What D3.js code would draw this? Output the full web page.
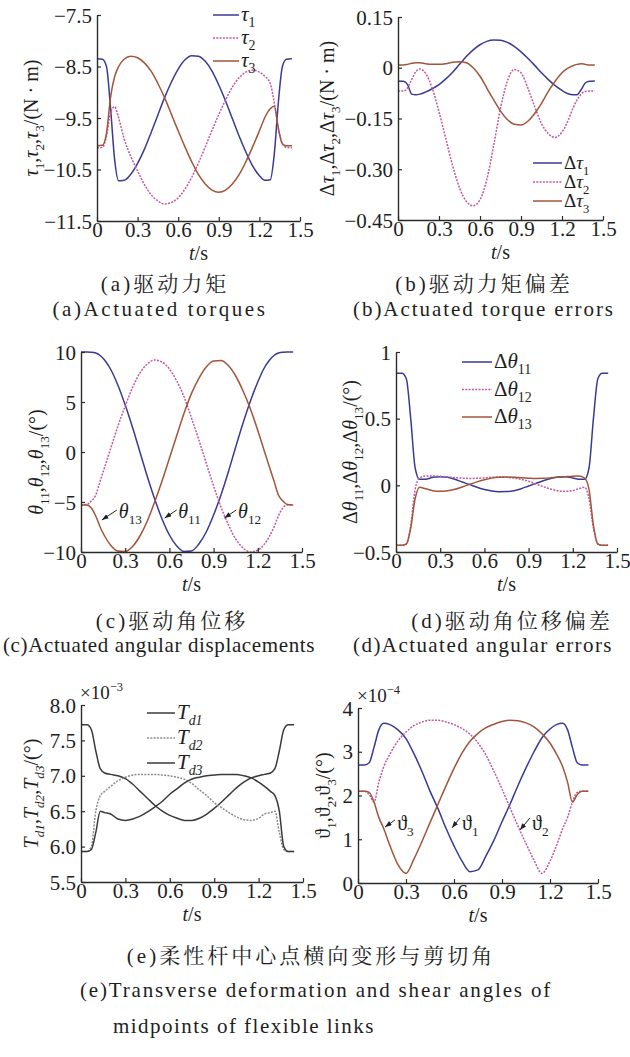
<!DOCTYPE html>
<html><head><meta charset="utf-8">
<script src="https://cdn.jsdelivr.net/npm/d3@7"></script>
<style>html,body{margin:0;padding:0;background:#fff}svg{display:block}</style>
</head><body>
<svg id="chart" width="630" height="1057"></svg>
<script>
// ---------- DATA ----------
const T = [0,0.04,0.07,0.1,0.13,0.16,0.2,0.25,0.3,0.35,0.4,0.45,0.5,0.55,0.6,0.65,0.7,0.75,0.8,0.85,0.9,0.95,1.0,1.05,1.1,1.15,1.2,1.24,1.28,1.31,1.34,1.37,1.4,1.44];
const tickT = [0,0.3,0.6,0.9,1.2,1.5];
const tickTLabels = ["0","0.3","0.6","0.9","1.2","1.5"];

// (a) actuated torques
const tau1 = [-8.35,-8.36,-8.5,-9.3,-10.3,-10.72,-10.71,-10.59,-10.38,-10.11,-9.78,-9.44,-9.10,-8.80,-8.55,-8.37,-8.29,-8.30,-8.40,-8.59,-8.86,-9.17,-9.51,-9.85,-10.16,-10.43,-10.62,-10.71,-10.7,-10.2,-9.2,-8.5,-8.36,-8.35];
const tau2 = [-10.08,-10.07,-9.85,-9.4,-9.28,-9.5,-9.9,-10.25,-10.53,-10.79,-10.99,-11.11,-11.17,-11.14,-11.05,-10.88,-10.65,-10.37,-10.06,-9.74,-9.43,-9.15,-8.90,-8.72,-8.61,-8.57,-8.61,-8.69,-8.83,-9.2,-9.7,-10.0,-10.07,-10.08];
const tau3 = [-10.04,-10.03,-9.8,-9.1,-8.7,-8.5,-8.36,-8.30,-8.33,-8.43,-8.59,-8.83,-9.11,-9.43,-9.75,-10.06,-10.35,-10.6,-10.78,-10.9,-10.94,-10.9,-10.78,-10.6,-10.35,-10.06,-9.75,-9.49,-9.32,-9.27,-9.7,-10.0,-10.04,-10.04];
const tauTicks = [-11.5,-10.5,-9.5,-8.5,-7.5];
const tauTickLabels = ["\u221211.5","\u221210.5","\u22129.5","\u22128.5","\u22127.5"];

// (b) torque errors
const dtau1 = [-0.039,-0.04,-0.05,-0.078,-0.08,-0.078,-0.072,-0.062,-0.05,-0.033,-0.013,0.01,0.033,0.053,0.068,0.078,0.082,0.081,0.075,0.063,0.047,0.028,0.007,-0.015,-0.035,-0.053,-0.067,-0.076,-0.08,-0.08,-0.065,-0.045,-0.04,-0.039];
const dtau2 = [-0.069,-0.069,-0.06,-0.035,-0.012,-0.004,-0.015,-0.06,-0.13,-0.21,-0.29,-0.355,-0.395,-0.408,-0.39,-0.33,-0.23,-0.12,-0.04,-0.005,-0.015,-0.06,-0.115,-0.165,-0.195,-0.206,-0.19,-0.16,-0.12,-0.095,-0.078,-0.07,-0.069,-0.069];
const dtau3 = [0.008,0.008,0.01,0.013,0.015,0.015,0.012,0.01,0.01,0.012,0.016,0.018,0.015,0.0,-0.025,-0.06,-0.095,-0.128,-0.153,-0.167,-0.169,-0.158,-0.135,-0.105,-0.07,-0.04,-0.015,-0.002,0.006,0.01,0.012,0.01,0.008,0.008];
const dtauTicks = [-0.45,-0.30,-0.15,0,0.15];
const dtauTickLabels = ["\u22120.45","\u22120.30","\u22120.15","0","0.15"];

// (c) angular displacements
const th11 = [10,10,9.98,9.9,9.65,9.2,8.3,6.7,4.7,2.45,0,-2.45,-4.7,-6.7,-8.3,-9.4,-9.95,-9.9,-9.2,-8.0,-6.3,-4.3,-2.0,0.5,2.9,5.1,7.0,8.3,9.2,9.65,9.9,9.98,10,10];
const th12 = [-5.3,-5.25,-4.9,-4.3,-2.9,-1.55,0.29,2.57,4.6,6.45,7.9,8.8,9.2,9.0,8.3,7.1,5.5,3.4,1.2,-1.1,-3.4,-5.5,-7.25,-8.7,-9.6,-10.0,-9.8,-9.3,-8.4,-7.5,-6.4,-5.6,-5.3,-5.3];
const th13 = [-5.3,-5.3,-5.6,-6.4,-7.5,-8.4,-9.3,-9.9,-9.95,-9.45,-8.4,-6.9,-5.0,-2.9,-0.63,1.66,3.9,5.86,7.37,8.5,9.1,9.15,8.65,7.6,6.1,4.3,2.15,0.3,-1.55,-2.9,-4.3,-4.9,-5.25,-5.3];
const thTicks = [-10,-5,0,5,10];
const thTickLabels = ["\u221210","\u22125","0","5","10"];

// (d) angular errors
const dth11 = [0.84,0.84,0.8,0.5,0.13,0.045,0.045,0.06,0.065,0.06,0.045,0.025,0.005,-0.015,-0.032,-0.043,-0.048,-0.047,-0.04,-0.025,-0.005,0.015,0.035,0.052,0.062,0.064,0.055,0.045,0.045,0.13,0.5,0.8,0.84,0.84];
const dth12 = [-0.45,-0.45,-0.44,-0.3,-0.03,0.055,0.07,0.07,0.068,0.063,0.058,0.054,0.052,0.053,0.056,0.06,0.062,0.06,0.055,0.045,0.03,0.01,-0.01,-0.028,-0.04,-0.045,-0.04,-0.025,-0.015,-0.1,-0.32,-0.44,-0.45,-0.45];
const dth13 = [-0.45,-0.45,-0.44,-0.32,-0.1,-0.015,-0.025,-0.04,-0.045,-0.04,-0.03,-0.012,0.008,0.026,0.042,0.054,0.06,0.062,0.06,0.057,0.054,0.052,0.053,0.056,0.06,0.065,0.069,0.07,0.055,-0.03,-0.3,-0.44,-0.45,-0.45];
const dthTicks = [-0.5,0,0.5,1];
const dthTickLabels = ["\u22120.5","0","0.5","1"];

// (e) left: transverse deformation (x1e-3)
const Td1 = [7.72,7.72,7.65,7.35,7.1,7.04,7.02,7.0,6.96,6.88,6.78,6.68,6.58,6.5,6.44,6.4,6.37,6.37,6.4,6.46,6.54,6.63,6.73,6.83,6.91,6.97,7.0,7.02,7.04,7.1,7.35,7.65,7.72,7.72];
const Td2 = [5.93,5.93,6.0,6.5,6.72,6.78,6.85,6.93,6.98,7.01,7.02,7.02,7.02,7.01,7.0,6.98,6.95,6.89,6.8,6.72,6.62,6.55,6.48,6.42,6.38,6.37,6.4,6.46,6.48,6.5,6.2,5.96,5.93,5.93];
const Td3 = [5.93,5.93,5.96,6.2,6.5,6.48,6.46,6.39,6.37,6.39,6.43,6.49,6.56,6.64,6.74,6.82,6.9,6.955,6.98,7.0,7.01,7.02,7.02,7.02,7.0,6.97,6.91,6.85,6.78,6.72,6.5,6.0,5.93,5.93];
const TdTicks = [5.5,6.0,6.5,7.0,7.5,8.0];
const TdTickLabels = ["5.5","6.0","6.5","7.0","7.5","8.0"];

// (e) right: shear angles (x1e-4)
const vt1 = [2.7,2.7,2.75,3.1,3.5,3.65,3.62,3.5,3.3,2.95,2.55,2.1,1.7,1.25,0.85,0.5,0.26,0.3,0.62,0.98,1.4,1.8,2.23,2.63,3.0,3.32,3.52,3.62,3.65,3.5,3.1,2.75,2.7,2.7];
const vt2 = [2.1,2.1,2.02,1.85,2.3,2.65,2.95,3.25,3.45,3.6,3.68,3.72,3.72,3.68,3.62,3.53,3.4,3.2,2.92,2.55,2.15,1.72,1.3,0.9,0.52,0.22,0.5,0.85,1.25,1.5,1.85,2.07,2.1,2.1];
const vt3 = [2.1,2.1,2.07,1.85,1.5,1.25,0.85,0.42,0.22,0.55,0.95,1.38,1.8,2.22,2.62,2.97,3.24,3.42,3.55,3.63,3.69,3.72,3.71,3.66,3.57,3.41,3.2,2.95,2.65,2.3,1.85,2.02,2.1,2.1];
const vtTicks = [0,1,2,3,4];
const vtTickLabels = ["0","1","2","3","4"];

// ---------- FONTS ----------
function pickFont(cands, fallback) {
  const ctx = document.createElement("canvas").getContext("2d");
  const s = "AaBbGgMmWwQqRr0123456789.,-";
  for (const f of cands) {
    let ok = false;
    for (const base of ["monospace", "sans-serif"]) {
      ctx.font = `40px ${base}`; const w0 = ctx.measureText(s).width;
      ctx.font = `40px "${f}", ${base}`; const w1 = ctx.measureText(s).width;
      if (Math.abs(w1 - w0) > 0.5) { ok = true; break; }
    }
    if (ok) return `"${f}", ${fallback}`;
  }
  return fallback;
}
const SERIF = pickFont(["Liberation Serif", "Times New Roman", "Tinos", "DejaVu Serif", "Noto Serif", "FreeSerif", "Nimbus Roman", "Times", "Georgia"], "serif");
const CJK = SERIF.replace(/, serif$/, "") + ", \"Noto Serif CJK SC\", \"Noto Sans CJK SC\", serif";

// ---------- STYLE ----------
const BLUE = "#3a3a94", MAG = "#c05a9c", BROWN = "#a2553a", DARK = "#3a3a3a", GREY = "#8c8c8c";
const TXT = "#1e1e1e";

const svg = d3.select("#chart");
svg.append("rect").attr("width",630).attr("height",1057).attr("fill","#fff");
const defs = svg.append("defs");
defs.append("marker").attr("id","arr").attr("viewBox","0 0 8 6").attr("refX",8).attr("refY",3)
  .attr("markerWidth",7).attr("markerHeight",5).attr("orient","auto").attr("markerUnits","userSpaceOnUse")
  .append("path").attr("d","M0,0L8,3L0,6z").attr("fill","#222");

function rich(parent, x, y, parts, fs, opts = {}) {
  const t = parent.append("text").attr("x", x).attr("y", y)
    .style("font-family", SERIF).style("font-size", fs + "px").attr("fill", TXT);
  if (opts.anchor) t.attr("text-anchor", opts.anchor);
  if (opts.rotate) t.attr("transform", `rotate(-90,${x},${y})`);
  let cur = 0;
  parts.forEach(([s, st]) => {
    let shift = 0, size = fs;
    if (st.includes("b")) { shift = 0.3 * fs; size = 0.66 * fs; }
    if (st.includes("p")) { shift = -0.42 * fs; size = 0.66 * fs; }
    const sp = t.append("tspan").text(s).style("font-size", size + "px").attr("dy", shift - cur);
    if (st.includes("i")) sp.style("font-style", "italic");
    cur = shift;
  });
  return t;
}

function panel(cfg) {
  const g = svg.append("g");
  const x = d3.scaleLinear().domain([0, 1.5]).range([cfg.x0, cfg.x1]);
  const y = d3.scaleLinear().domain(cfg.yDomain).range([cfg.yBot, cfg.yTop]);
  const line = d3.line().x((d, i) => x(T[i])).y(d => y(d)).curve(d3.curveMonotoneX);
  cfg.series.forEach(s => {
    g.append("path").datum(s.values).attr("d", line).attr("fill", "none")
      .attr("stroke", s.color).attr("stroke-width", 1.5)
      .attr("stroke-dasharray", s.dash ? "2,1.3" : null);
  });
  const ax = g.append("g").attr("transform", `translate(0,${cfg.yBot})`)
    .call(d3.axisBottom(x).tickValues(tickT).tickFormat((d, i) => tickTLabels[i])
      .tickSize(-4).tickSizeOuter(0).tickPadding(1));
  const ay = g.append("g").attr("transform", `translate(${cfg.x0},0)`)
    .call(d3.axisLeft(y).tickValues(cfg.ticks).tickFormat((d, i) => cfg.tickLabels[i])
      .tickSize(-4).tickSizeOuter(0).tickPadding(5));
  [ax, ay].forEach(a => {
    a.attr("font-family", null).attr("font-size", null);
    a.select(".domain").attr("stroke", "#2a2a2a").attr("stroke-width", 1.4);
    a.selectAll(".tick line").attr("stroke", "#2a2a2a").attr("stroke-width", 1.2);
    a.selectAll("text").style("font-family", SERIF).style("font-size", "21px").attr("fill", TXT);
  });
  ay.selectAll("text").attr("dy", "0.34em");
  rich(g, (cfg.x0 + cfg.x1) / 2, cfg.yBot + 39, [["t", "i"], ["/s", "n"]], 20, { anchor: "middle" });
  rich(g, cfg.ylx, (cfg.yTop + cfg.yBot) / 2 + (cfg.yloff || 0), cfg.ylabel, 20, { anchor: "middle", rotate: true });
  if (cfg.legend) {
    const L = cfg.legend;
    cfg.series.forEach((s, i) => {
      const yy = L.y + i * L.dy;
      g.append("line").attr("x1", L.x).attr("x2", L.x + L.w).attr("y1", yy).attr("y2", yy)
        .attr("stroke", s.color).attr("stroke-width", 1.5).attr("stroke-dasharray", s.dash ? "2,1.3" : null);
      rich(g, L.x + L.w + 2, yy + 6, s.label, L.fs || 21);
    });
  }
  if (cfg.exp) rich(g, cfg.x0 - 1, cfg.yTop - 6, [["\u00d710", "n"], [cfg.exp, "p"]], 19);
  if (cfg.ann) {
    cfg.ann.forEach(a => {
      g.append("line").attr("x1", x(a.from[0])).attr("y1", y(a.from[1]))
        .attr("x2", x(a.to[0])).attr("y2", y(a.to[1]))
        .attr("stroke", "#222").attr("stroke-width", 1).attr("marker-end", "url(#arr)");
      rich(g, x(a.at[0]), y(a.at[1]), a.label, 20);
    });
  }
}

const lab = (sym, ital, subs, pre) => {
  const out = [];
  subs.forEach((s, i) => {
    if (i) out.push([",", "n"]);
    if (pre) out.push([pre, "n"]);
    out.push([sym, ital ? "i" : "n"]);
    out.push([s, "b"]);
  });
  return out;
};

panel({ x0: 97, x1: 300, yTop: 15, yBot: 221, yDomain: [-11.5, -7.5], ticks: tauTicks, tickLabels: tauTickLabels,
  ylx: 38, ylabel: lab("\u03c4", true, ["1", "2", "3"]).concat([["/(N \u00b7 m)", "n"]]),
  series: [
    { values: tau1, color: BLUE, label: [["\u03c4", "i"], ["1", "b"]] },
    { values: tau2, color: MAG, dash: true, label: [["\u03c4", "i"], ["2", "b"]] },
    { values: tau3, color: BROWN, label: [["\u03c4", "i"], ["3", "b"]] }],
  legend: { x: 213, w: 26, y: 15, dy: 23 } });

panel({ x0: 398, x1: 603, yTop: 17, yBot: 220, yDomain: [-0.45, 0.15], ticks: dtauTicks, tickLabels: dtauTickLabels,
  ylx: 334, ylabel: lab("\u03c4", true, ["1", "2", "3"], "\u0394").concat([["/(N \u00b7 m)", "n"]]),
  series: [
    { values: dtau1, color: BLUE, label: [["\u0394", "n"], ["\u03c4", "i"], ["1", "b"]] },
    { values: dtau2, color: MAG, dash: true, label: [["\u0394", "n"], ["\u03c4", "i"], ["2", "b"]] },
    { values: dtau3, color: BROWN, label: [["\u0394", "n"], ["\u03c4", "i"], ["3", "b"]] }],
  legend: { x: 533, w: 29, y: 163, dy: 19, fs: 19 } });

panel({ x0: 81, x1: 302, yTop: 352, yBot: 552, yDomain: [-10, 10], ticks: thTicks, tickLabels: thTickLabels,
  ylx: 43, yloff: 10, ylabel: lab("\u03b8", true, ["11", "12", "13"]).concat([["/(\u00b0)", "n"]]),
  series: [
    { values: th11, color: BLUE },
    { values: th12, color: MAG, dash: true },
    { values: th13, color: BROWN }],
  ann: [
    { label: [["\u03b8", "i"], ["13", "b"]], from: [0.243, -5.8], to: [0.142, -6.8], at: [0.257, -6.6] },
    { label: [["\u03b8", "i"], ["11", "b"]], from: [0.649, -5.8], to: [0.568, -6.6], at: [0.66, -6.6] },
    { label: [["\u03b8", "i"], ["12", "b"]], from: [1.054, -5.8], to: [0.973, -6.6], at: [1.066, -6.6] }] });

panel({ x0: 396, x1: 617, yTop: 352, yBot: 552, yDomain: [-0.5, 1], ticks: dthTicks, tickLabels: dthTickLabels,
  ylx: 357, ylabel: lab("\u03b8", true, ["11", "12", "13"], "\u0394").concat([["/(\u00b0)", "n"]]),
  series: [
    { values: dth11, color: BLUE, label: [["\u0394", "n"], ["\u03b8", "i"], ["11", "b"]] },
    { values: dth12, color: MAG, dash: true, label: [["\u0394", "n"], ["\u03b8", "i"], ["12", "b"]] },
    { values: dth13, color: BROWN, label: [["\u0394", "n"], ["\u03b8", "i"], ["13", "b"]] }],
  legend: { x: 462, w: 30, y: 362, dy: 27.5 } });

panel({ x0: 81, x1: 303, yTop: 705, yBot: 882, yDomain: [5.5, 8.0], ticks: TdTicks, tickLabels: TdTickLabels,
  ylx: 38, ylabel: [["T", "i"], ["d1", "bi"], [",", "n"], ["T", "i"], ["d2", "bi"], [",", "n"], ["T", "i"], ["d3", "bi"], ["/(\u00b0)", "n"]],
  exp: "\u22123",
  series: [
    { values: Td1, color: DARK, label: [["T", "i"], ["d1", "bi"]] },
    { values: Td2, color: GREY, dash: true, label: [["T", "i"], ["d2", "bi"]] },
    { values: Td3, color: DARK, label: [["T", "i"], ["d3", "bi"]] }],
  legend: { x: 147, w: 28, y: 713, dy: 25 } });

panel({ x0: 358, x1: 598, yTop: 708, yBot: 883, yDomain: [0, 4], ticks: vtTicks, tickLabels: vtTickLabels,
  ylx: 330, ylabel: lab("\u03d1", false, ["1", "2", "3"]).concat([["/(\u00b0)", "n"]]),
  exp: "\u22124",
  series: [
    { values: vt1, color: BLUE },
    { values: vt2, color: MAG, dash: true },
    { values: vt3, color: BROWN }],
  ann: [
    { label: [["\u03d1", "n"], ["3", "b"]], from: [0.231, 1.44], to: [0.169, 1.28], at: [0.245, 1.22] },
    { label: [["\u03d1", "n"], ["1", "b"]], from: [0.6375, 1.49], to: [0.5875, 1.26], at: [0.65, 1.22] },
    { label: [["\u03d1", "n"], ["2", "b"]], from: [1.075, 1.49], to: [1.0125, 1.21], at: [1.088, 1.22] }] });

// ---------- CAPTIONS ----------
const captions = [
  { text: "(a)驱动力矩", x: 165, y: 291, cjk: true },
  { text: "(a)Actuated torques", x: 160, y: 316, w: 215 },
  { text: "(b)驱动力矩偏差", x: 484, y: 291, cjk: true },
  { text: "(b)Actuated torque errors", x: 484, y: 316, w: 262 },
  { text: "(c)驱动角位移", x: 172, y: 628, cjk: true },
  { text: "(c)Actuated angular displacements", x: 159, y: 652, w: 312 },
  { text: "(d)驱动角位移偏差", x: 512, y: 628, cjk: true },
  { text: "(d)Actuated angular errors", x: 483, y: 652, w: 260 },
  { text: "(e)柔性杆中心点横向变形与剪切角", x: 311, y: 963, cjk: true },
  { text: "(e)Transverse deformation and shear angles of", x: 80, y: 997, anchor: "start", w: 472 },
  { text: "midpoints of flexible links", x: 113, y: 1033, anchor: "start", w: 262 }
];
captions.forEach(c => {
  const t = svg.append("text").attr("x", c.x).attr("y", c.y).text(c.text)
    .attr("text-anchor", c.anchor || "middle")
    .style("font-family", c.cjk ? CJK : SERIF).style("font-size", "21px")
    .attr("fill", TXT);
  if (c.cjk) t.attr("letter-spacing", 3);
  else {
    const w0 = t.node().getComputedTextLength();
    const ls = Math.max(0, Math.min(3, (c.w - w0) / c.text.length));
    t.attr("letter-spacing", ls.toFixed(2));
  }
});
</script>
</body></html>
